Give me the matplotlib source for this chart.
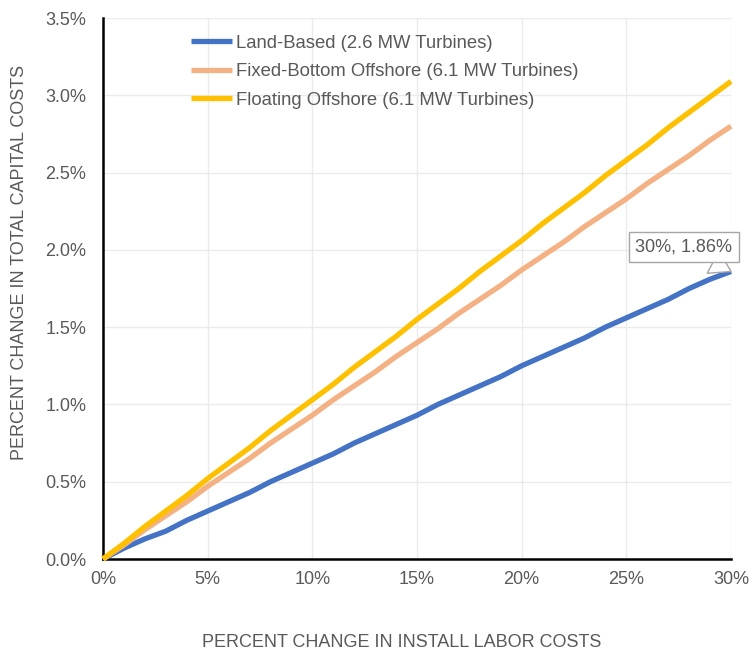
import matplotlib.pyplot as plt
from matplotlib.ticker import FuncFormatter

labor_change = list(range(0, 31))
land_based = [0, 0.07, 0.13, 0.18, 0.25, 0.31, 0.37, 0.43, 0.50, 0.56, 0.62,
              0.68, 0.75, 0.81, 0.87, 0.93, 1.00, 1.06, 1.12, 1.18, 1.25,
              1.31, 1.37, 1.43, 1.50, 1.56, 1.62, 1.68, 1.75, 1.81, 1.86]
fixed_bottom = [0, 0.09, 0.19, 0.28, 0.37, 0.47, 0.56, 0.65, 0.75, 0.84, 0.93,
                1.03, 1.12, 1.21, 1.31, 1.40, 1.49, 1.59, 1.68, 1.77, 1.87,
                1.96, 2.05, 2.15, 2.24, 2.33, 2.43, 2.52, 2.61, 2.71, 2.80]
floating = [0, 0.10, 0.21, 0.31, 0.41, 0.52, 0.62, 0.72, 0.83, 0.93, 1.03,
            1.13, 1.24, 1.34, 1.44, 1.55, 1.65, 1.75, 1.86, 1.96, 2.06,
            2.17, 2.27, 2.37, 2.48, 2.58, 2.68, 2.79, 2.89, 2.99, 3.09]
series_names = [
    "Land-Based (2.6 MW Turbines)",
    "Fixed-Bottom Offshore (6.1 MW Turbines)",
    "Floating Offshore (6.1 MW Turbines)",
]

TEXT = "#595959"
FS = 13

plt.rcParams["font.family"] = ["Liberation Sans", "DejaVu Sans"]

fig = plt.figure(figsize=(7.49, 6.5), dpi=100)
ax = fig.add_axes([0.1375, 0.14, 0.976 - 0.1375, 0.9723 - 0.14])

ax.plot(labor_change, land_based, color="#4472C4", linewidth=3.8,
        label=series_names[0], clip_on=False, solid_capstyle="butt", zorder=3)
ax.plot(labor_change, fixed_bottom, color="#F4B183", linewidth=3.8,
        label=series_names[1], clip_on=False, solid_capstyle="butt", zorder=3)
ax.plot(labor_change, floating, color="#FFC000", linewidth=3.8,
        label=series_names[2], clip_on=False, solid_capstyle="butt", zorder=3)

ax.set_xlim(0, 30)
ax.set_ylim(0, 3.5)
ax.set_xticks(range(0, 31, 5))
ax.set_yticks([i * 0.5 for i in range(8)])
ax.xaxis.set_major_formatter(FuncFormatter(lambda v, p: f"{v:.0f}%"))
ax.yaxis.set_major_formatter(FuncFormatter(lambda v, p: f"{v:.1f}%"))
ax.tick_params(length=0, labelsize=FS, labelcolor=TEXT)
ax.tick_params(axis="y", pad=12)
ax.tick_params(axis="x", pad=9)

ax.grid(True, color="#EBEBEB", linewidth=1)
ax.set_axisbelow(True)
for side in ["top", "right"]:
    ax.spines[side].set_visible(False)
for side in ["left", "bottom"]:
    ax.spines[side].set_color("black")
    ax.spines[side].set_linewidth(1.8)

ax.set_xlabel("PERCENT CHANGE IN INSTALL LABOR COSTS", fontsize=FS,
              color=TEXT, labelpad=30)
ax.xaxis.set_label_coords(0.476, -0.138)
ax.set_ylabel("PERCENT CHANGE IN TOTAL CAPITAL COSTS", fontsize=FS,
              color=TEXT, labelpad=16)
ax.yaxis.set_label_coords(-0.12, 0.549)

ax.legend(loc="upper left", bbox_to_anchor=(0.113, 1.0), frameon=False,
          fontsize=13.3, labelcolor=TEXT, handlelength=2.25,
          handletextpad=0.22, labelspacing=0.62)

ax.annotate(f"{labor_change[-1]}%, {land_based[-1]:.2f}%",
            xy=(labor_change[-1], land_based[-1]),
            xytext=(27.75, 2.02), fontsize=FS, color=TEXT,
            ha="center", va="center", annotation_clip=False,
            bbox=dict(boxstyle="square,pad=0.35", fc="white", ec="#A6A6A6", lw=1),
            arrowprops=dict(arrowstyle="wedge,tail_width=1.4", fc="white",
                            ec="#A6A6A6", lw=1, shrinkA=0, shrinkB=0),
            zorder=5)

fig.savefig("out.png", dpi=100)
